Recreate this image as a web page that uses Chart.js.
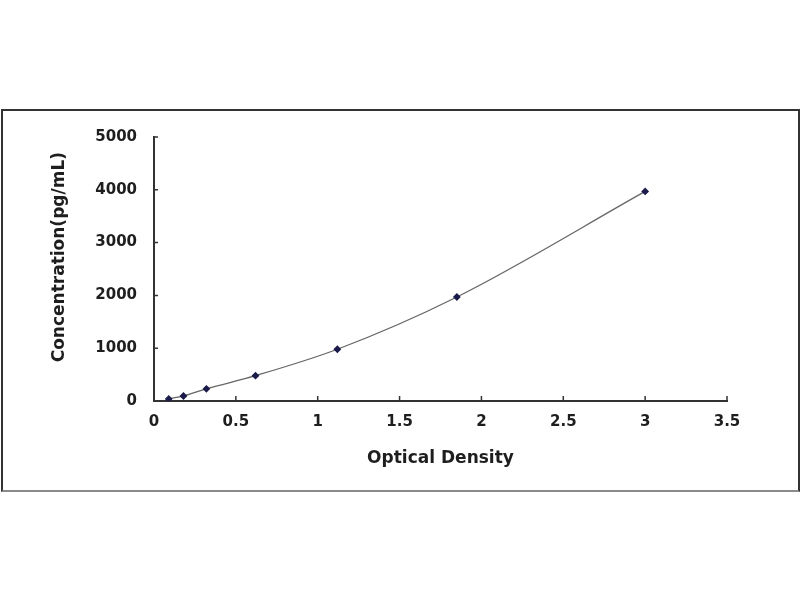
<!DOCTYPE html>
<html>
<head>
<meta charset="utf-8">
<script src="https://cdn.jsdelivr.net/npm/chart.js@4/dist/chart.umd.min.js"></script>
<style>
  html, body { margin: 0; padding: 0; background: #fff; }
  #wrap { position: relative; width: 800px; height: 600px; }
  #frame {
    position: absolute; left: 1px; top: 109px; width: 795px; height: 379px;
    border-left: 2px solid #333; border-top: 2px solid #333;
    border-right: 2px solid #333; border-bottom: 2px solid #8a8a8a;
    pointer-events: none;
  }
</style>
</head>
<body>
<div id="wrap">
  <canvas id="chart" width="800" height="600"></canvas>
  <div id="frame"></div>
</div>
<script>
// standard curve points
const opticalDensity = [0.09, 0.18, 0.32, 0.62, 1.12, 1.85, 3.0];
const concentration = [40, 95, 230, 480, 980, 1970, 3970];

const xTicks = [0, 0.5, 1, 1.5, 2, 2.5, 3, 3.5];
const yTicks = [0, 1000, 2000, 3000, 4000, 5000];

const textColor = '#1e1e1e';
const fontFamily = '"DejaVu Sans", Arial, sans-serif';

const points = opticalDensity.map((x, i) => ({ x: x, y: concentration[i] }));

// small tick marks pointing into the plot, like the original
const innerTicks = {
    id: 'innerTicks',
    afterDraw(chart) {
        const ctx = chart.ctx;
        const xs = chart.scales.x, ys = chart.scales.y;
        ctx.save();
        ctx.strokeStyle = '#333';
        ctx.lineWidth = 1.5;
        ctx.beginPath();
        xTicks.forEach(v => {
            const px = xs.getPixelForValue(v);
            ctx.moveTo(px, ys.bottom);
            ctx.lineTo(px, ys.bottom - 5);
        });
        yTicks.forEach(v => {
            const py = ys.getPixelForValue(v);
            ctx.moveTo(xs.left, py);
            ctx.lineTo(xs.left + 4, py);
        });
        ctx.stroke();
        ctx.restore();
    }
};

new Chart(document.getElementById('chart').getContext('2d'), {
    type: 'line',
    data: {
        datasets: [{
            data: points,
            borderColor: '#666',
            borderWidth: 1.3,
            backgroundColor: '#1b1b4b',
            pointStyle: 'rectRot',
            pointRadius: 3,
            pointBackgroundColor: '#1b1b4b',
            pointBorderColor: '#1b1b4b',
            cubicInterpolationMode: 'monotone',
            fill: false
        }]
    },
    options: {
        responsive: false,
        animation: false,
        layout: { padding: { left: 0, top: 137, right: 73, bottom: 124 } },
        plugins: { legend: { display: false }, tooltip: { enabled: false } },
        scales: {
            x: {
                type: 'linear',
                min: 0,
                max: 3.5,
                afterBuildTicks(scale) { scale.ticks = xTicks.map(v => ({ value: v })); },
                afterFit(scale) { scale.height = 75; },
                grid: { display: true, drawOnChartArea: false, drawTicks: false },
                border: { display: true, color: '#333', width: 2 },
                ticks: {
                    padding: 12,
                    color: textColor,
                    font: { family: fontFamily, size: 15, weight: 'bold' },
                    maxRotation: 0,
                    callback: v => String(v)
                },
                title: {
                    display: true,
                    text: 'Optical Density',
                    color: textColor,
                    font: { family: fontFamily, size: 17, weight: 'bold' },
                    padding: { top: 0, bottom: 7 }
                }
            },
            y: {
                type: 'linear',
                min: 0,
                max: 5000,
                afterBuildTicks(scale) { scale.ticks = yTicks.map(v => ({ value: v })); },
                afterFit(scale) { scale.width = 154; },
                grid: { display: true, drawOnChartArea: false, drawTicks: false },
                border: { display: true, color: '#333', width: 2 },
                ticks: {
                    padding: 17,
                    color: textColor,
                    font: { family: fontFamily, size: 15, weight: 'bold' },
                    callback: v => String(v)
                },
                title: {
                    display: true,
                    // leading spaces nudge the rotated title up a little, as in the original
                    text: '    Concentration(pg/mL)',
                    color: textColor,
                    font: { family: fontFamily, size: 17, weight: 'bold' },
                    padding: { top: 49, bottom: 0 }
                }
            }
        }
    },
    plugins: [innerTicks]
});
</script>
</body>
</html>
